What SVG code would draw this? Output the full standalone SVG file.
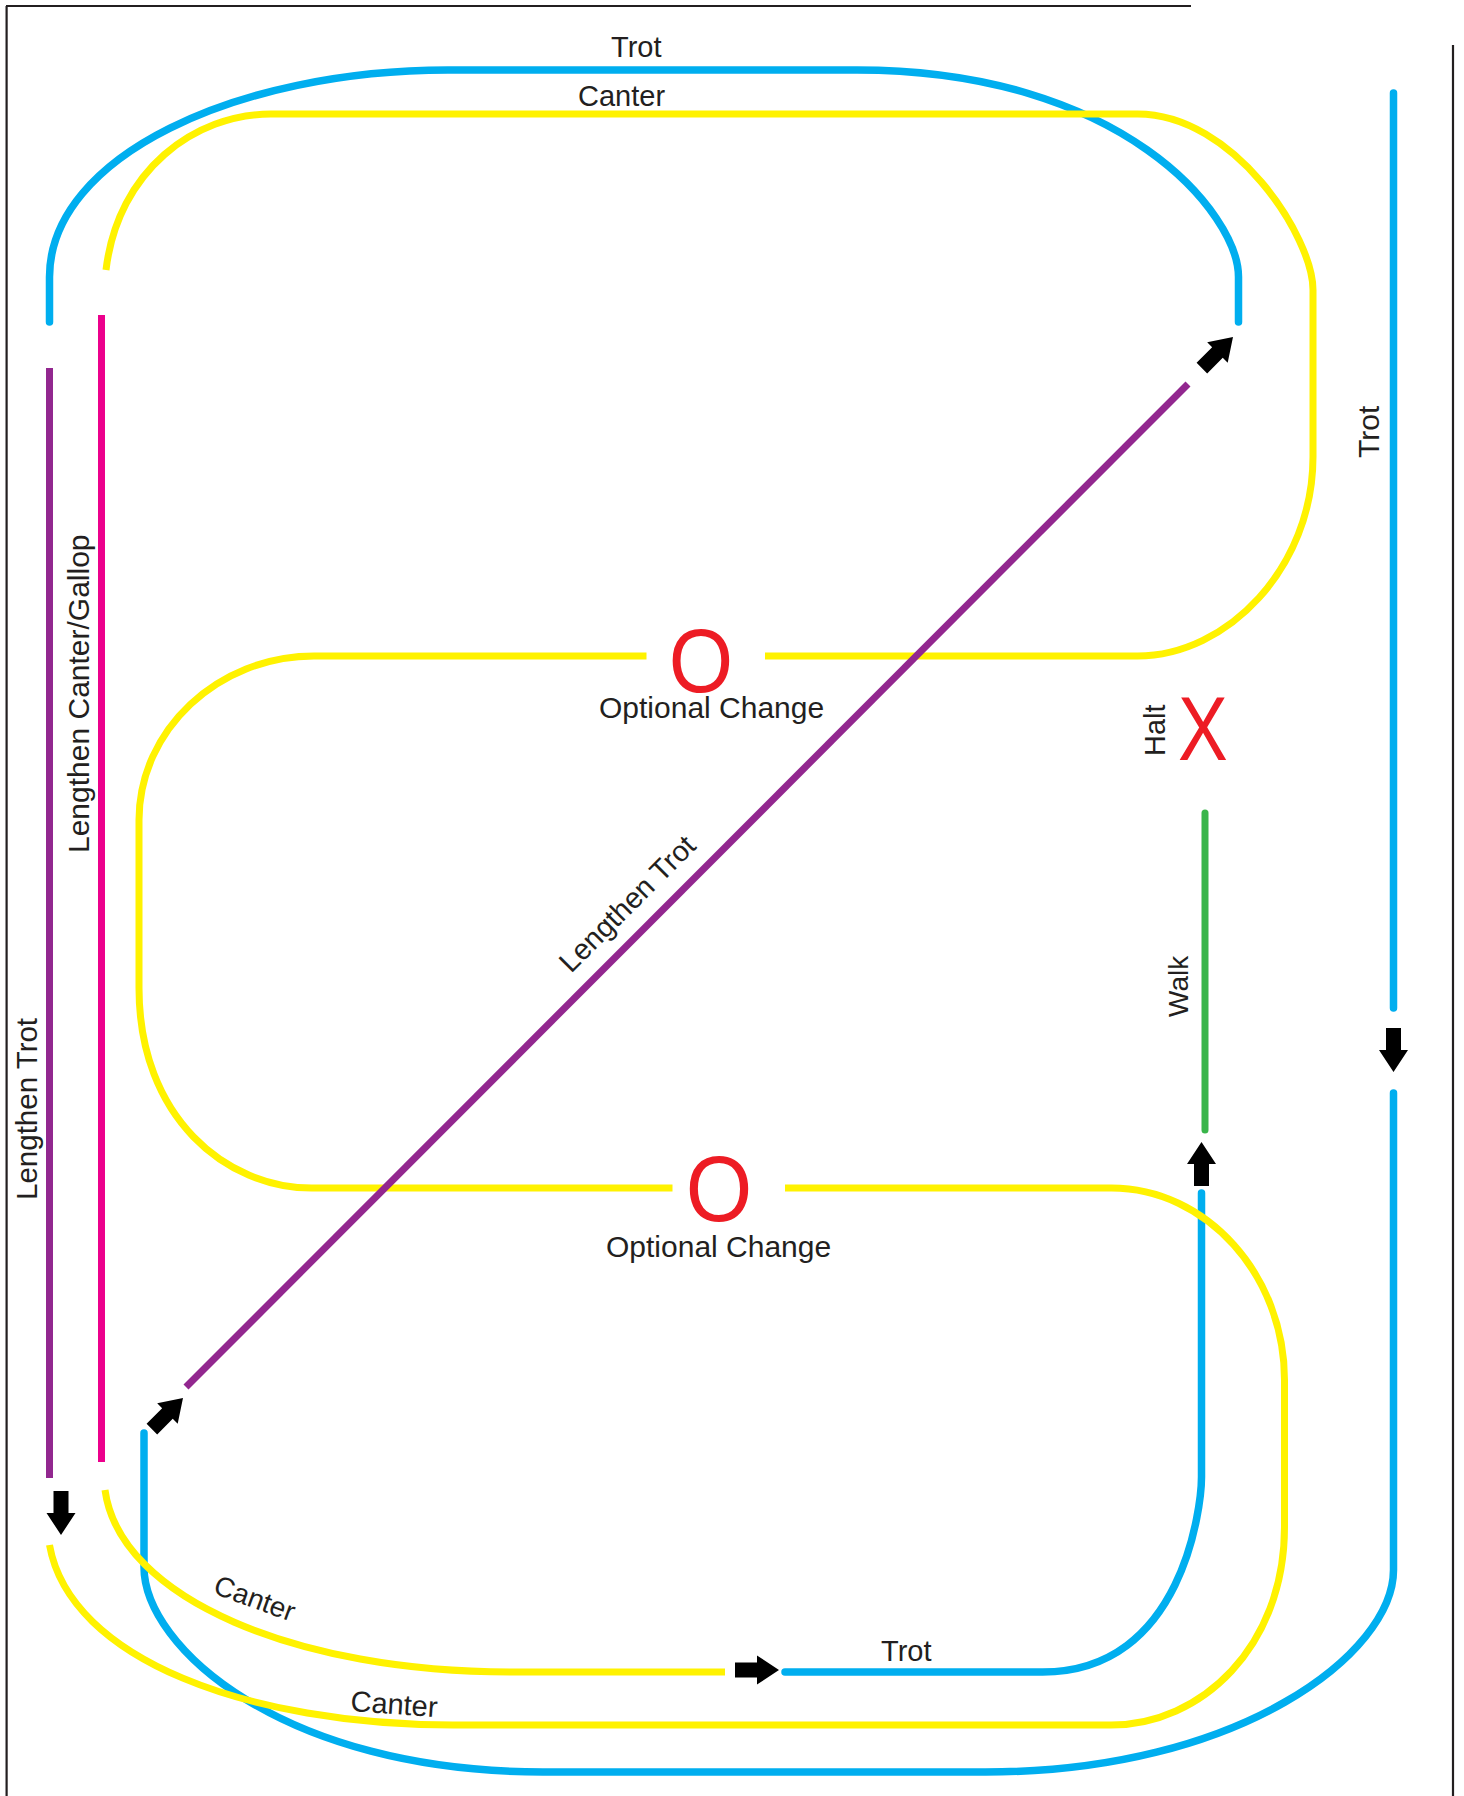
<svg xmlns="http://www.w3.org/2000/svg" xmlns:xlink="http://www.w3.org/1999/xlink" width="1464" height="1796" viewBox="0 0 1464 1796">
<style>
.frame{fill:none;stroke:#231f20;stroke-width:2.2}
.blue{fill:none;stroke:#00aeef;stroke-width:7.5;stroke-linecap:round}
.yel{fill:none;stroke:#fff200;stroke-width:7}
.pur{fill:none;stroke:#92278f;stroke-width:7}
.mag{fill:none;stroke:#ec008c;stroke-width:7}
.grn{fill:none;stroke:#39b54a;stroke-width:7;stroke-linecap:round}
.lbl{font-family:"Liberation Sans",Arial,sans-serif;font-size:29px;fill:#231f20}
.big{font-family:"Liberation Sans",Arial,sans-serif;fill:#ed1c24;text-anchor:middle}
.arr{fill:#000}
</style>
<defs>
<path id="arrow" d="M-44,-7.5 H-22 V-14.5 L0,0 L-22,14.5 V7.5 H-44 Z"/>
</defs>
<rect width="1464" height="1796" fill="#fff"/>
<g id="frame">
<path class="frame" d="M6,6 H1191 M6.6,6 V1796 M1453,45 V1796"/>
</g>
<g id="connectors">
<path id="trot-top" class="blue" d="M49.5,322 V277 C49.5,156 238,70 448,70 H857 C1122,70 1238.5,214 1238.5,277 V322"/>
<path id="trot-right" class="blue" d="M1393.5,93 V1008"/>
<path id="trot-outer" class="blue" d="M1393.5,1093 V1570 C1393.5,1653 1239.6,1772 985.6,1772 H543 C283,1772 144,1647 144,1567 V1433"/>
<path id="trot-inner" class="blue" d="M785,1672 H1042.6 C1183.6,1672 1201.5,1505 1201.5,1477 V1193"/>
<path id="canter-top" class="yel" d="M106,270 C118,170 195,114 271,114 H1137.5 C1234,114 1313,237 1313,290 V457 C1313,567 1227.5,656 1137.5,656 H765"/>
<path id="canter-mid" class="yel" d="M646.5,656 H314 C218,656 139,730 139,820 V988 C139,1118 226.5,1188 311.5,1188 H672.5"/>
<path id="canter-low" class="yel" d="M785,1188 H1111.4 C1206.4,1188 1284.5,1275 1284.5,1380 V1527 C1284.5,1647 1201,1725 1111,1725 H453 C250,1725 70,1660 49.5,1545"/>
<path id="canter-inner" class="yel" d="M105,1490 C120,1600 300,1672 510,1672 H725"/>
<path id="lengthen-trot-left" class="pur" d="M49.5,368 V1478"/>
<path id="lengthen-trot-diag" class="pur" d="M186,1387 L1188,384"/>
<path id="lengthen-canter" class="mag" d="M101.5,315 V1462"/>
<path id="walk" class="grn" d="M1205,813 V1130"/>
<use class="arr" href="#arrow" transform="translate(779,1670)"/>
<use class="arr" href="#arrow" transform="translate(1393.5,1072) rotate(90)"/>
<use class="arr" href="#arrow" transform="translate(1201.5,1142) rotate(-90)"/>
<use class="arr" href="#arrow" transform="translate(61,1535) rotate(90)"/>
<use class="arr" href="#arrow" transform="translate(1233,337) rotate(-45)"/>
<use class="arr" href="#arrow" transform="translate(183,1398) rotate(-45)"/>
</g>
<g id="marker-o-upper"><text class="big" font-size="90" transform="translate(701,692) scale(0.92,1)">O</text></g>
<g id="marker-o-lower"><text class="big" font-size="93" transform="translate(719,1220.5) scale(0.92,1)">O</text></g>
<g id="marker-x"><text class="big" font-size="91" transform="translate(1203,760) scale(0.82,1)">X</text></g>
<g id="labels">
<text class="lbl" x="611" y="57">Trot</text>
<text class="lbl" x="578" y="105.5">Canter</text>
<text class="lbl" x="599" y="718" style="font-size:30px">Optional Change</text>
<text class="lbl" x="606" y="1257" style="font-size:30px">Optional Change</text>
<text class="lbl" transform="translate(571,974) rotate(-45)">Lengthen Trot</text>
<text class="lbl" transform="translate(88.5,853) rotate(-90)" style="font-size:30px">Lengthen Canter/Gallop</text>
<text class="lbl" transform="translate(36.8,1200) rotate(-90)" style="font-size:29.5px">Lengthen Trot</text>
<text class="lbl" transform="translate(1379,458) rotate(-90)" style="font-size:30px">Trot</text>
<text class="lbl" transform="translate(1165,756) rotate(-90)">Halt</text>
<text class="lbl" transform="translate(1188,1017) rotate(-90)" style="font-size:28px">Walk</text>
<text class="lbl" x="881" y="1661">Trot</text>
<text class="lbl" transform="translate(212,1593) rotate(20)" style="font-size:28px">Canter</text>
<text class="lbl" transform="translate(350,1711) rotate(4)">Canter</text>
</g>
</svg>
